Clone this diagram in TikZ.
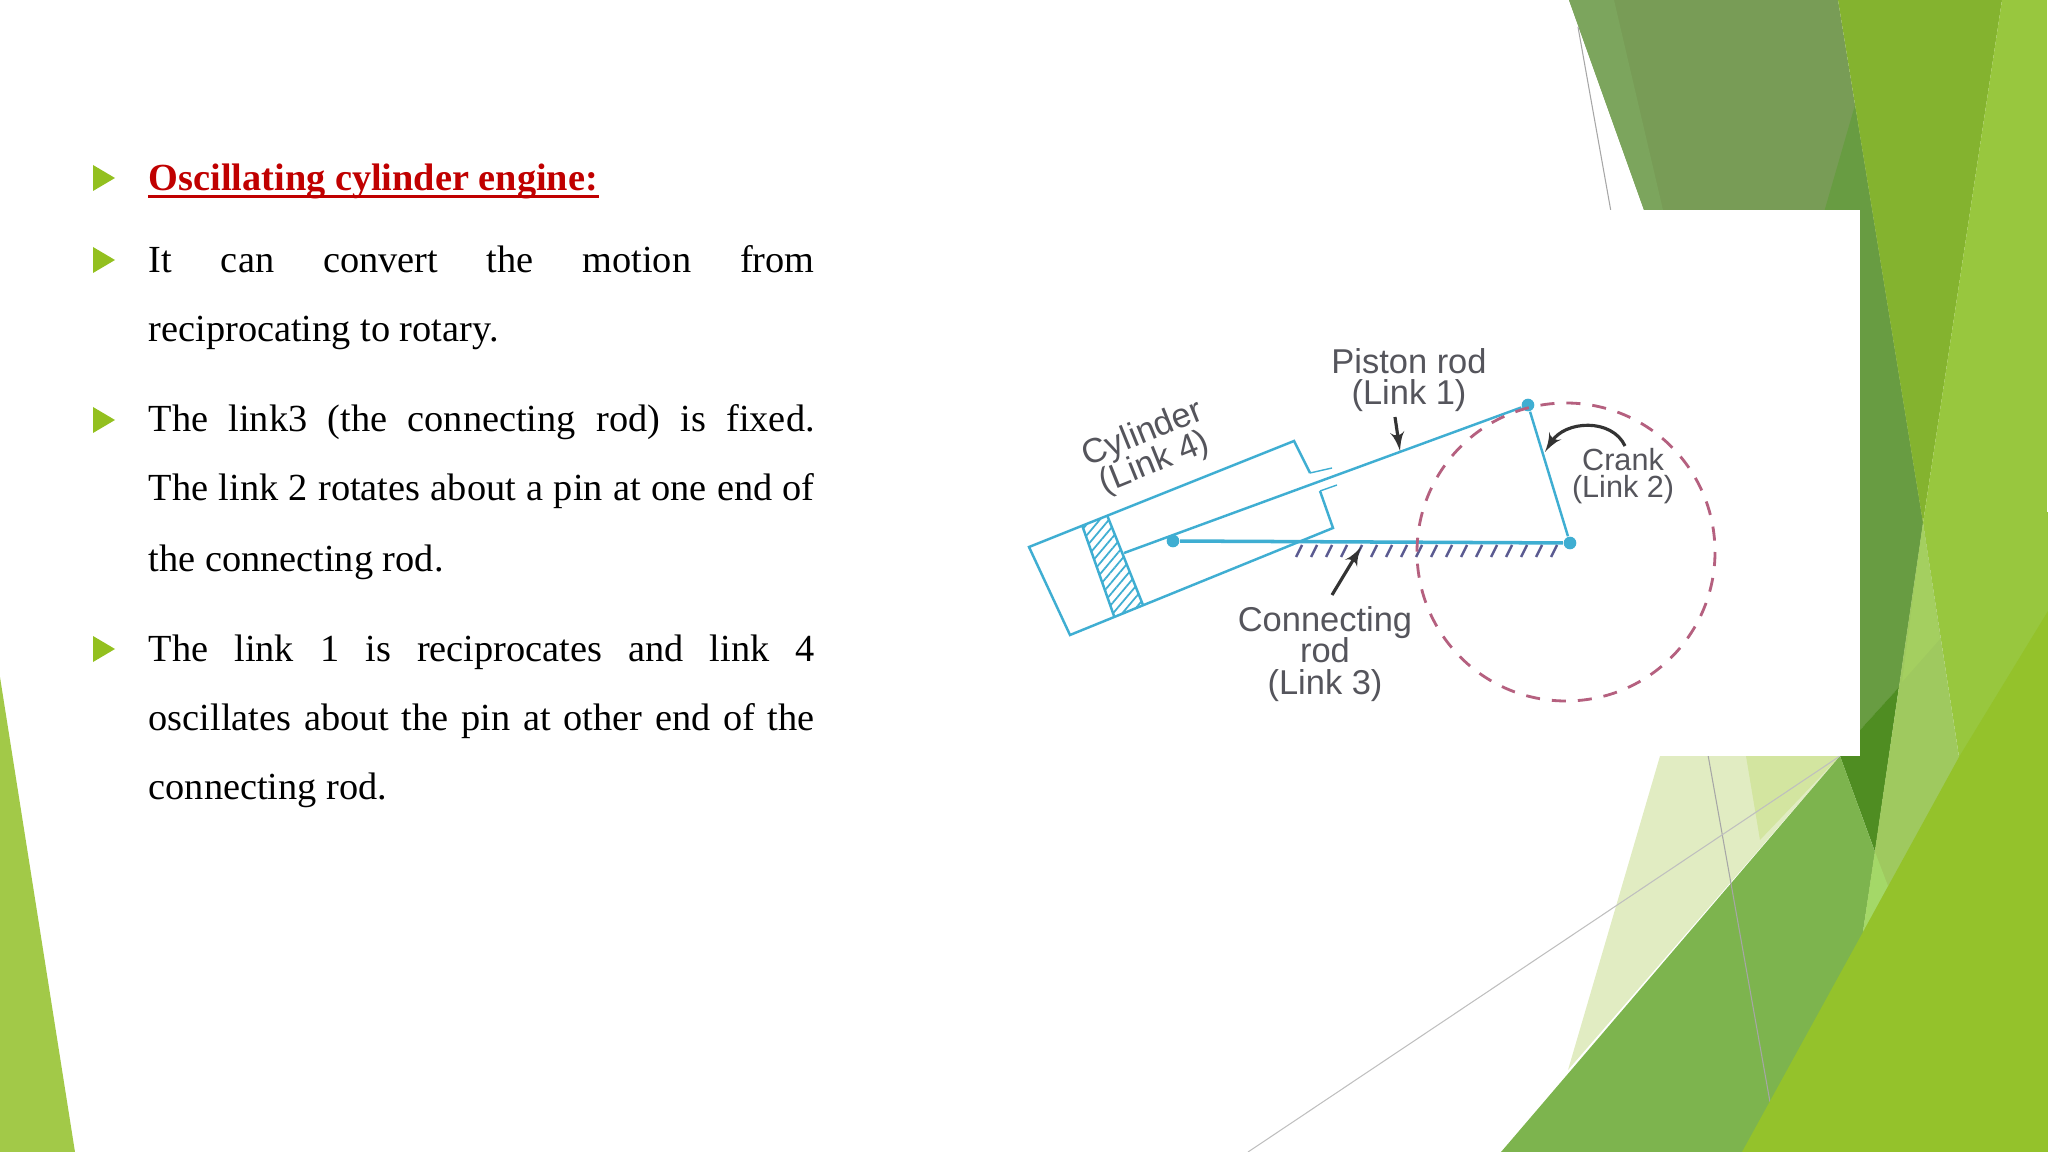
\documentclass[tikz,border=0pt]{standalone}
\usepackage{fontspec}
\setmainfont{Liberation Serif}
\setsansfont{Liberation Sans}
\usepackage{tikz}
\usetikzlibrary{arrows,patterns.meta}
\definecolor{olivegreen}{HTML}{789C56}
\definecolor{olivepale}{HTML}{7CA55D}
\definecolor{olivedark}{HTML}{689C42}
\definecolor{stripegreen}{HTML}{84B32F}
\definecolor{brightgreen}{HTML}{94C22B}
\definecolor{rightgreen}{HTML}{98C73E}
\definecolor{softgreen}{HTML}{9FC95F}
\definecolor{softtop}{HTML}{A4CF60}
\definecolor{glowgreen}{HTML}{A4D868}
\definecolor{deepgreen}{HTML}{4F8D22}
\definecolor{midgreen}{HTML}{7DB44E}
\definecolor{palegreen}{HTML}{E1ECC2}
\definecolor{palelime}{HTML}{D3E5A0}
\definecolor{cornergreen}{HTML}{A2C948}
\definecolor{bulletgreen}{HTML}{93C01F}
\definecolor{titlered}{HTML}{C00000}
\definecolor{linkblue}{HTML}{3FAED2}
\definecolor{wheelpink}{HTML}{B5607F}
\definecolor{hatchviolet}{HTML}{5A5A90}
\definecolor{taggrey}{HTML}{55555C}
\newcommand{\jline}[1]{\makebox[6.656cm][s]{#1}}
\AtBeginDocument{\setlength{\lineskiplimit}{-6pt}}

\begin{document}
\begin{tikzpicture}[
		x=0.01cm,
		y=-0.01cm,
		>=latex',
		font=\fontsize{10.9}{14}\selectfont,
		textline/.style={
			anchor=base west,
			inner sep=0pt
		},
		link/.style={
			draw=linkblue,
			line width=0.7pt
		},
		pin/.style={
			circle,
			fill=linkblue,
			inner sep=0pt,
			minimum size=3.6pt
		},
		pointer/.style={
			->,
			draw=black!80,
			line width=0.9pt
		},
		tag/.style={
			font=\sffamily\fontsize{9.8}{8.9}\selectfont,
			text=taggrey,
			align=center,
			inner sep=0pt
		}
		]
		\useasboundingbox (0,0) rectangle (2048,1152);
		
		% We start by placing the green shapes
		\fill [olivegreen] (1569,0) -- (1838,0) -- (1923,523) -- (1899,687) -- (1860,730) -- (1644,210) -- cycle;
		\fill [olivepale] (1569,0) -- (1614,0) -- (1663,210) -- (1644,210) -- cycle;
		\fill [olivedark] (1855,105) -- (1790,330) -- (1860,730) -- (1899,687) -- (1923,523) -- cycle;
		\fill [deepgreen] (1840,756) -- (1860,730) -- (1899,687) -- (1875,852) -- cycle;
		\fill [palegreen] (1660,756) -- (1840,756) -- (1568,1070) -- cycle;
		\fill [palelime] (1746,756) -- (1840,756) -- (1760,840) -- cycle;
		\fill [midgreen] (1840,756) -- (1875,852) -- (1863,932) -- (1880,945) -- (1760,1160) -- (1501,1152) -- cycle;
		\fill [stripegreen] (1838,0) -- (2002,0) -- (1923,523) -- cycle;
		\fill [rightgreen] (2002,0) -- (2048,0) -- (2048,640) -- (1975,770) -- (1959,757) -- (1923,523) -- cycle;
		\fill [softgreen] (1923,523) -- (1959,757) -- (1975,770) -- (1880,945) -- (1863,932) -- cycle;
		\fill [softtop] (1923,523) -- (1940,639) -- (1902,682) -- cycle;
		\fill [glowgreen] (1875,852) -- (1888,886) -- (1863,932) -- cycle;
		\fill [cornergreen] (0,677) -- (75,1152) -- (0,1152) -- cycle;
		\fill [white] (2047,0) rectangle (2048,512);
		
		% thin grey lines
		\coordinate (lineAtop) at (1578,27);
		\coordinate (lineAend) at (1770,1102);
		\coordinate (lineBtop) at (1840,756);
		\coordinate (lineBend) at (1248,1152);
		\draw [black!35, line width=0.3pt] (lineAtop) -- (lineAend);
		\draw [black!25, line width=0.3pt] (lineBtop) -- (lineBend);
		\fill [brightgreen] (1742,1152) -- (1863,932) -- (1959,757) -- (2048,611) -- (2048,1152) -- cycle;
		
		% white panel of the figure
		\fill [white] (1000,210) rectangle (1860,756);
		
		% cylinder and piston
		\coordinate (cylA) at (1070,635);
		\coordinate (cylB) at (1029,547);
		\coordinate (cylC) at (1294,441);
		\coordinate (cylD) at (1310,473);
		\coordinate (cylE) at (1320,491);
		\coordinate (cylF) at (1333,528);
		\coordinate (rodend) at (1124,553);
		\fill [pattern={Lines[angle=50,distance=2pt,line width=0.5pt]}, pattern color=linkblue] (1082,525) -- (1107,515) -- (1143,605) -- (1114,616) -- cycle;
		\draw [link] (cylD) -- (cylC) -- (cylB) -- (cylA) -- (cylF) -- (cylE);
		\draw [link] (1082,525) -- (1114,616);
		\draw [link] (1107,515) -- (1143,605);
		\draw [link, line width=0.4pt] (cylD) -- ++(22,-5);
		\draw [link, line width=0.4pt] (cylE) -- ++(17,-6);
		
		% links and pins
		\node [pin] (gudgeon) at (1173,541) {};
		\node [pin] (crankpin) at (1528,405) {};
		\node [pin] (crankcentre) at (1570,543) {};
		\draw [link] (rodend) -- (crankpin);
		\draw [link] (crankpin) -- (crankcentre);
		\draw [link, line width=1pt] (gudgeon) -- (crankcentre);
		\foreach \hx in {1302,1317,...,1557}
		{
			\draw [hatchviolet, line width=0.7pt] (\hx,545) -- ++(-6,12);
		}
		
		% crank circle
		\draw [wheelpink, line width=0.8pt, dash pattern=on 4pt off 3.4pt] (1566,552) circle (149);
		
		% labels and pointers
		\node [tag] (pistontag) at (1409,380) {Piston rod\\(Link 1)};
		\node [tag, rotate=22] (cylindertag) at (1149,449) {Cylinder\\(Link 4)};
		\node [tag, font=\sffamily\fontsize{8.7}{7.9}\selectfont] (cranktag) at (1623,476) {Crank\\(Link 2)};
		\node [tag] (rodtag) at (1325,654) {Connecting\\rod\\(Link 3)};
		\coordinate (pistonfoot) at (1395,417);
		\coordinate (pistonhead) at (1400,451);
		\coordinate (crankfoot) at (1625,446);
		\coordinate (crankhead) at (1545,452);
		\coordinate (rodfoot) at (1332,595);
		\coordinate (rodhead) at (1361,547);
		\draw [pointer] (pistonfoot) -- (pistonhead);
		\draw [pointer] (crankfoot) .. controls (1612,418) and (1565,420) .. (crankhead);
		\draw [pointer] (rodfoot) -- (rodhead);
		
		% bullets
		\foreach \by in {178,260,420,649}
		{
			\fill [bulletgreen] (93,\by-13) -- (115,\by) -- (93,\by+13) -- cycle;
		}
		
		% text of the slide
		\node [textline, text=titlered] (title) at (148,191) {\textbf{Oscillating cylinder engine:}};
		\draw [titlered, line width=0.8pt] ([yshift=-1.6pt]title.base west) -- ([yshift=-1.6pt]title.base east);
		\node [textline] (lineone) at (148,273) {\jline{It can convert the motion from}};
		\node [textline] (linetwo) at (148,342) {reciprocating to rotary.};
		\node [textline] (linethree) at (148,432) {\jline{The link3 (the connecting rod) is fixed.}};
		\node [textline] (linefour) at (148,501) {\jline{The link 2 rotates about a pin at one end of}};
		\node [textline] (linefive) at (148,571) {the connecting rod.};
		\node [textline] (linesix) at (148,661) {\jline{The link 1 is reciprocates and link 4}};
		\node [textline] (lineseven) at (148,730) {\jline{oscillates about the pin at other end of the}};
		\node [textline] (lineeight) at (148,799) {connecting rod.};
		
		\end{tikzpicture}
\end{document}
